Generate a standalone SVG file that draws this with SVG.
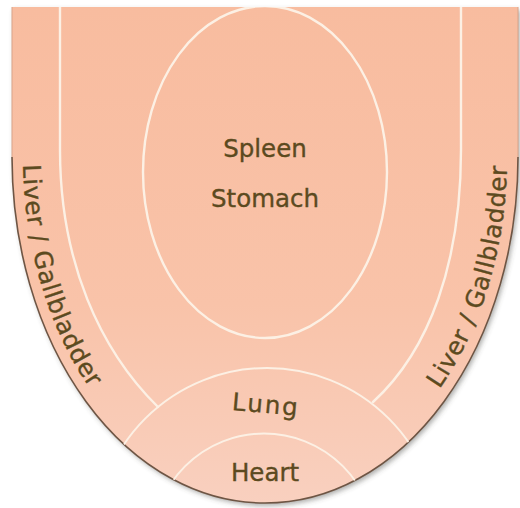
<svg xmlns="http://www.w3.org/2000/svg" width="520" height="508" viewBox="0 0 520 508">
  <defs>
    <linearGradient id="fillGrad" x1="0" y1="7" x2="0" y2="503" gradientUnits="userSpaceOnUse">
      <stop offset="0" stop-color="#F8BC9F"/>
      <stop offset="0.6" stop-color="#F9C3A9"/>
      <stop offset="1" stop-color="#F9D0BF"/>
    </linearGradient>
    <filter id="shadow" x="-5%" y="-5%" width="110%" height="115%">
      <feDropShadow dx="2" dy="3" stdDeviation="2.5" flood-color="#4a4a44" flood-opacity="0.45"/>
    </filter>
    <clipPath id="tongueClip">
      <path d="M12,7 L12,157 A253,346 0 0 0 518,157 L518,7 Z"/>
    </clipPath>
    <path id="leftTextPath" d="M23,140 L23,157 A242,335 0 0 0 265,492"/>
    <path id="rightTextPath" d="M265,492 A242,335 0 0 0 507,157 L507,140"/>
  </defs>
  <style>
    .zone { fill: none; stroke: #FCF0E4; stroke-width: 2.4; stroke-linecap: round; }
    .thin { stroke-width: 2; }
    .lbl { font-family: "DejaVu Sans", Verdana, "Liberation Sans", sans-serif; font-size: 24.5px; fill: #5C4A20; stroke: #5C4A20; stroke-width: 0.35; }
    .mid { text-anchor: middle; }
    .side { letter-spacing: 0.6px; }
  </style>
  <rect width="520" height="508" fill="#FFFFFF"/>

  <g id="tongue">
    <path d="M12,7 L12,157 A253,346 0 0 0 518,157 L518,7 Z" fill="url(#fillGrad)" filter="url(#shadow)"/>
    <path d="M12,157 A253,346 0 0 0 518,157" fill="none" stroke="#6E5544" stroke-width="1.6"/>
    <path d="M12,7 L12,157 M518,157 L518,7" fill="none" stroke="#D9A48A" stroke-width="1"/>
  </g>

  <g id="connectors" clip-path="url(#tongueClip)">
    <ellipse class="zone" cx="265" cy="172" rx="122" ry="166"/>
    <path class="zone" d="M60,0 L60,150 C60,262 100,350 158,407"/>
    <path class="zone" d="M461,0 L461,150 C461,262 430,350 373,402"/>
    <circle class="zone thin" cx="267" cy="540" r="172"/>
    <circle class="zone thin" cx="264" cy="545" r="111.5"/>
  </g>

  <g id="spleen-stomach">
    <text class="lbl mid" x="265" y="157">Spleen</text>
    <text class="lbl mid" x="265" y="207">Stomach</text>
  </g>

  <g id="liver-left">
    <text class="lbl side"><textPath href="#leftTextPath" startOffset="143" text-anchor="middle">Liver / Gallbladder</textPath></text>
  </g>

  <g id="liver-right">
    <text class="lbl side"><textPath href="#rightTextPath" startOffset="329" text-anchor="middle">Liver / Gallbladder</textPath></text>
  </g>

  <g id="lung">
    <text class="lbl mid" x="266" y="413" letter-spacing="2" transform="rotate(5 266 405)">Lung</text>
  </g>

  <g id="heart">
    <text class="lbl mid" x="265" y="481">Heart</text>
  </g>
</svg>
